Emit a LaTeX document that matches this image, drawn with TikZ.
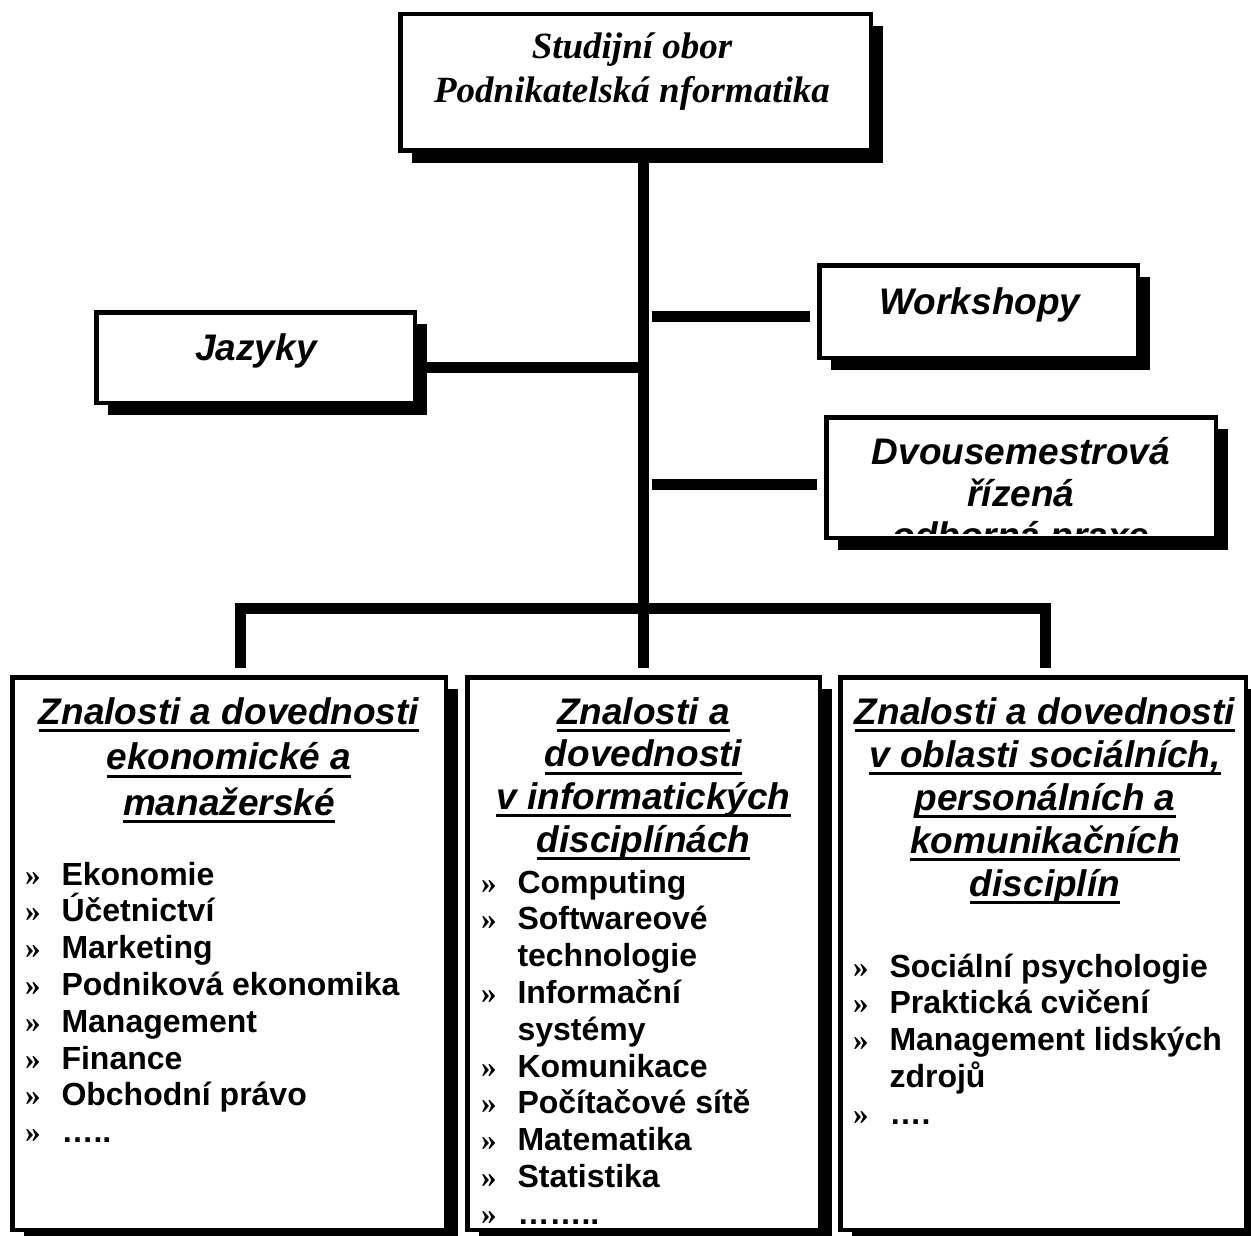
\documentclass[tikz,border=0pt]{standalone}
\usepackage{fontspec}
\setmainfont{Liberation Sans}
\newfontfamily\timesf{Liberation Serif}
\usetikzlibrary{shadows}

\newsavebox{\ulbox}
\newcommand{\uline}[1]{\leavevmode\sbox\ulbox{#1}\rlap{\rule[-8pt]{\wd\ulbox}{3pt}}\usebox\ulbox}
\newcommand{\bul}{\makebox[36.5pt][l]{\timesf\fontsize{31}{31}\selectfont »}}
\newcommand{\ind}{\hspace*{36.5pt}}
\newcommand{\blockc}[3]{\begin{minipage}[t]{#1}\fontsize{37}{#2}\selectfont\centering #3\end{minipage}}
\newcommand{\blockl}[2]{\begin{minipage}[t]{#1}\fontsize{32}{36.8}\selectfont\raggedright #2\end{minipage}}

\tikzset{
  card/.style={draw, line width=4.5pt, fill=white, rectangle, inner sep=0pt,
    anchor=north west,
    drop shadow={fill=black, opacity=1, shadow xshift=12pt, shadow yshift=-12pt}},
  bar/.style={line width=11pt, line join=miter, line cap=butt},
  txt/.style={inner sep=0pt, outer sep=0pt, anchor=base},
  ltxt/.style={inner sep=0pt, outer sep=0pt, anchor=base west, font=\bfseries},
  heading/.style={txt, font=\bfseries\itshape},
  serifhead/.style={txt, font=\timesf\bfseries\itshape},
}

\begin{document}
\begin{tikzpicture}[x=1pt,y=-1pt]
\useasboundingbox (0,0) rectangle (1251,1236);
\fill[white] (0,0) rectangle (1251,1236);

% boxes
\node[card, minimum width=470.5pt, minimum height=136.5pt] (top) at (398,12) {};
\node[card, minimum width=318.5pt, minimum height=90.5pt] (jaz) at (94,310) {};
\node[card, minimum width=318.5pt, minimum height=92.5pt] (ws) at (817,263) {};
\node[card, minimum width=389.5pt, minimum height=120.5pt] (dv) at (824,415) {};
\node[card, minimum width=433.5pt, minimum height=552.5pt] (bl) at (10,675) {};
\node[card, minimum width=352.5pt, minimum height=552.5pt] (bm) at (465,675) {};
\node[card, minimum width=405.5pt, minimum height=552.5pt] (br) at (838,675) {};

% connector coordinates
\coordinate (hub) at (643.5,608);
\coordinate (jc) at (643.5,367.5);
\coordinate (wc) at (652,316);
\coordinate (dc) at (652,484);

% trunk and branches
\draw[bar] (top.south -| bm.north) -- ([yshift=7pt]bm.north);
\draw[bar] ([xshift=11pt,yshift=7pt]bl.north) |- (hub) -| ([xshift=2pt,yshift=7pt]br.north);
\draw[bar] ([xshift=10pt,yshift=-10pt]jaz.east) -- (jc);
\draw[bar] (wc) -- ([xshift=-7pt,yshift=-4.5pt]ws.west);
\draw[bar] (dc) -- ([xshift=-7pt,yshift=-6.5pt]dv.west);

% texts
\node[serifhead] (ttop) at (632,59) {\blockc{460pt}{44}{Studijní obor\\Podnikatelská nformatika}};
\node[heading, font=\bfseries\itshape\fontsize{37}{45}\selectfont] (tjaz) at (256,360) {Jazyky};
\node[heading, font=\bfseries\itshape\fontsize{37}{45}\selectfont] (tws) at (980,314) {Workshopy};
\begin{scope}
  \clip (828,419) rectangle (1214,533);
  \node[heading] (tdv) at (1021,464) {\blockc{385pt}{42}{Dvousemestrová\\řízená\\odborná praxe}};
\end{scope}

\node[heading] (hbl) at (229,724) {\blockc{425pt}{45.5}{\uline{Znalosti a dovednosti}\\\uline{ekonomické a}\\\uline{manažerské}}};
\node[heading] (hbm) at (643.5,724) {\blockc{345pt}{42.7}{\uline{Znalosti a}\\\uline{dovednosti}\\\uline{v informatických}\\\uline{disciplínách}}};
\node[heading] (hbr) at (1045,724) {\blockc{400pt}{43}{\uline{Znalosti a dovednosti}\\\uline{v oblasti sociálních,}\\\uline{personálních a}\\\uline{komunikačních}\\\uline{disciplín}}};

\node[ltxt] (lbl) at (25,885) {\blockl{420pt}{\bul Ekonomie\\\bul Účetnictví\\\bul Marketing\\\bul Podniková ekonomika\\\bul Management\\\bul Finance\\\bul Obchodní právo\\\bul …..}};
\node[ltxt] (lbm) at (481,893) {\blockl{335pt}{\bul Computing\\\bul Softwareové\\\ind technologie\\\bul Informační\\\ind systémy\\\bul Komunikace\\\bul Počítačové sítě\\\bul Matematika\\\bul Statistika\\\bul ……..}};
\node[ltxt] (lbr) at (853,977) {\blockl{390pt}{\bul Sociální psychologie\\\bul Praktická cvičení\\\bul Management lidských\\\ind zdrojů\\\bul ….}};
\end{tikzpicture}
\end{document}
